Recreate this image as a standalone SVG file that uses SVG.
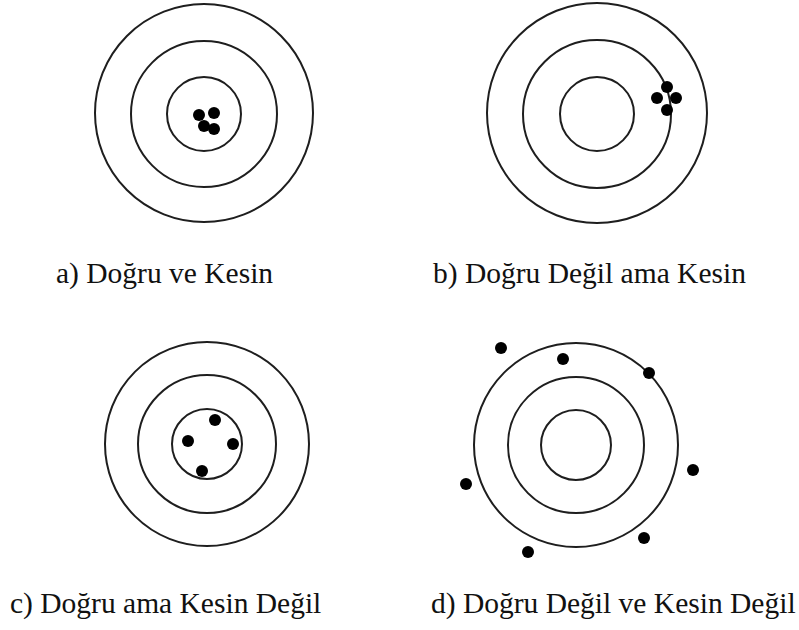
<svg xmlns="http://www.w3.org/2000/svg" width="799" height="630" viewBox="0 0 799 630">
<style>
.ring{fill:none;stroke:#1e1e1e;stroke-width:2}
.dot{fill:#000}
.lbl{font-family:"Liberation Serif","DejaVu Serif",serif;font-size:29.5px;fill:#111}
</style>
<rect width="799" height="630" fill="#fff"/>
<g id="target-a">
<circle class="ring" cx="204" cy="113" r="109"/>
<circle class="ring" cx="204" cy="114" r="73"/>
<circle class="ring" cx="204" cy="114" r="37"/>
<circle class="dot" cx="199" cy="115" r="6"/>
<circle class="dot" cx="214" cy="113" r="6"/>
<circle class="dot" cx="204" cy="126" r="6"/>
<circle class="dot" cx="214" cy="129" r="6"/>
</g>
<g id="target-b">
<circle class="ring" cx="597" cy="113" r="110"/>
<circle class="ring" cx="597" cy="114" r="74"/>
<circle class="ring" cx="597" cy="114" r="37"/>
<circle class="dot" cx="667" cy="87" r="6"/>
<circle class="dot" cx="657" cy="98" r="6"/>
<circle class="dot" cx="676" cy="98" r="6"/>
<circle class="dot" cx="667" cy="110" r="6"/>
</g>
<g id="target-c">
<circle class="ring" cx="207" cy="444" r="102"/>
<circle class="ring" cx="207" cy="444" r="69"/>
<circle class="ring" cx="207" cy="444" r="35"/>
<circle class="dot" cx="215" cy="420" r="6"/>
<circle class="dot" cx="188" cy="441" r="6"/>
<circle class="dot" cx="233" cy="444" r="6"/>
<circle class="dot" cx="202" cy="471" r="6"/>
</g>
<g id="target-d">
<circle class="ring" cx="576" cy="445" r="102"/>
<circle class="ring" cx="576" cy="445" r="68"/>
<circle class="ring" cx="576" cy="445" r="35"/>
<circle class="dot" cx="501" cy="348" r="6"/>
<circle class="dot" cx="563" cy="359" r="6"/>
<circle class="dot" cx="649" cy="373" r="6"/>
<circle class="dot" cx="693" cy="470" r="6"/>
<circle class="dot" cx="466" cy="484" r="6"/>
<circle class="dot" cx="644" cy="538" r="6"/>
<circle class="dot" cx="528" cy="552" r="6"/>
</g>
<g id="labels">
<text class="lbl" x="56" y="283">a) Doğru ve Kesin</text>
<text class="lbl" x="433" y="283">b) Doğru Değil ama Kesin</text>
<text class="lbl" x="10" y="613">c) Doğru ama Kesin Değil</text>
<text class="lbl" x="431" y="613">d) Doğru Değil ve Kesin Değil</text>
</g>
</svg>
